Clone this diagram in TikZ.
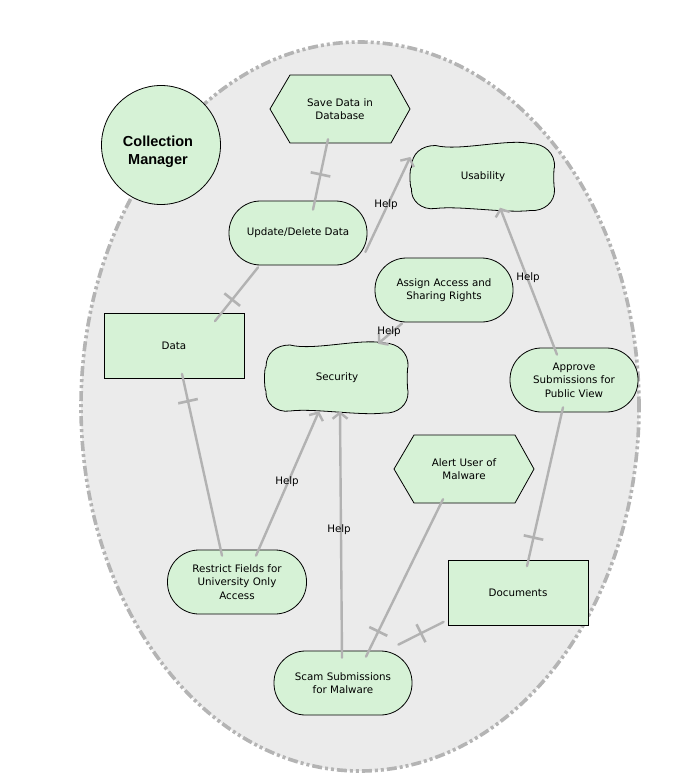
\documentclass[tikz,border=0pt]{standalone}
\usepackage{fontspec}
\setmainfont{DejaVu Sans}
\newfontfamily\actorfont{Liberation Sans}
\usetikzlibrary{arrows.meta,calc}
\definecolor{nodefill}{RGB}{214,242,214}
\definecolor{bgfill}{RGB}{235,235,235}
\definecolor{linkgray}{RGB}{178,178,178}
\definecolor{bordergray}{RGB}{180,180,180}

% softgoal: name, cx, cy, w, h, text
\newcommand\softgoalshape[6]{%
  \draw[nodeline] ({#2-#4/2+24},{#3-#5/2+2})
    .. controls ({#2-#4/6},{#3-#5/2+8}) and ({#2+#4/6},{#3-#5/2-5}) .. ({#2+#4/2-24},{#3-#5/2})
    .. controls ({#2+#4/2-10},{#3-#5/2}) and ({#2+#4/2+1},{#3-#5/2+10}) .. ({#2+#4/2},{#3-#5/2+24})
    .. controls ({#2+#4/2-1},{#3-#5/6}) and ({#2+#4/2-1},{#3+#5/6}) .. ({#2+#4/2},{#3+#5/2-22})
    .. controls ({#2+#4/2+1},{#3+#5/2-8}) and ({#2+#4/2-11},{#3+#5/2+1}) .. ({#2+#4/2-24},{#3+#5/2})
    .. controls ({#2+#4/6},{#3+#5/2+3}) and ({#2-#4/6},{#3+#5/2-5}) .. ({#2-#4/2+24},{#3+#5/2-2})
    .. controls ({#2-#4/2+10},{#3+#5/2}) and ({#2-#4/2-1},{#3+#5/2-10}) .. ({#2-#4/2},{#3+#5/2-22})
    .. controls ({#2-#4/2-2},{#3+#5/6}) and ({#2-#4/2-2},{#3-#5/6}) .. ({#2-#4/2},{#3-#5/2+24})
    .. controls ({#2-#4/2},{#3-#5/2+10}) and ({#2-#4/2+10},{#3-#5/2+2}) .. cycle;
  \node[plainbox, minimum width=#4pt, minimum height=#5pt] (#1) at (#2,#3) {#6};
}
% task hexagon: name, cx, cy, text
\newcommand\taskshape[4]{%
  \draw[nodeline] ({#2-70},#3) -- ({#2-50},{#3-34}) -- ({#2+51},{#3-34})
    -- ({#2+70},#3) -- ({#2+51},{#3+34}) -- ({#2-50},{#3+34}) -- cycle;
  \node[plainbox, minimum width=140pt, minimum height=68pt] (#1) at (#2,#3) {#4};
}

\begin{document}
\begin{tikzpicture}[x=1pt,y=-1pt,
  every node/.style={font=\fontsize{10.3}{13.6}\selectfont, align=center, inner sep=0pt},
  nodeline/.style={draw=black, fill=nodefill, line width=0.8pt},
  plainbox/.style={rectangle},
  goal/.style={nodeline, rectangle, rounded corners=31.5pt, minimum width=138pt, minimum height=64pt},
  resource/.style={nodeline, rectangle, minimum width=140pt, minimum height=65pt},
  actor/.style={nodeline, circle, minimum size=119pt},
  actortext/.style={font=\actorfont\bfseries\fontsize{14.5}{18}\selectfont},
  boundary/.style={draw=bordergray, fill=bgfill, line width=3.6pt,
    dash pattern=on 10pt off 3pt on 3pt off 3pt on 3pt off 3pt},
  link/.style={draw=linkgray, line width=2.4pt, line cap=round},
  helplink/.style={link, -{Straight Barb[length=6pt,width=15pt,line width=2.4pt]}},
  helplabel/.style={font=\fontsize{10.3}{12}\selectfont, fill=none},
  declink/.style={link},
  bar/.style={sloped, draw=linkgray, line width=2.6pt, rectangle,
    minimum height=20pt, minimum width=0pt, inner sep=0pt}
]
\useasboundingbox (0,0) rectangle (692,778);

% actor boundary
\path[boundary] (360,406.5) ellipse [x radius=279pt, y radius=364.5pt];

% actor
\node[actor] (cm) at (161,145) {};
\node[actortext] (cmtext) at (158,152) {Collection\\Manager};

% elements
\taskshape{save}{340}{109}{Save Data in\\Database}
\node[goal] (upd) at (298,233) {Update/Delete Data};
\softgoalshape{usab}{483}{177}{143}{67}{Usability}
\node[goal] (assign) at (444,290) {Assign Access and\\Sharing Rights};
\node[resource] (data) at (174,346) {Data};
\softgoalshape{sec}{337}{378}{142}{70}{Security}
\node[goal, minimum width=128pt] (approve) at (574,380) {Approve\\Submissions for\\Public View};
\taskshape{alert}{464}{469}{Alert User of\\Malware}
\node[goal, minimum width=139pt] (restrict) at (237,582) {Restrict Fields for\\University Only\\Access};
\node[resource] (docs) at (518,593) {Documents};
\node[goal] (scam) at (343,683) {Scam Submissions\\for Malware};

% decomposition links
\draw[declink] ([xshift=15pt,yshift=-9pt]upd.north) -- node[bar, pos=0.5]{} ([xshift=-12pt,yshift=4pt]save.south);
\draw[declink] ([xshift=41pt,yshift=-8pt]data.north) -- node[bar, pos=0.4]{} ([xshift=-40pt,yshift=-2pt]upd.south);
\draw[declink] ([xshift=-15pt,yshift=-6pt]restrict.north) -- node[bar, pos=0.85]{} ([xshift=8pt,yshift=5pt]data.south);
\draw[declink] ([xshift=23pt,yshift=-6pt]scam.north) -- node[bar, pos=0.16]{} ([xshift=-21pt,yshift=4pt]alert.south);
\draw[declink] ([xshift=-14pt,yshift=6pt]scam.north east) -- node[bar, pos=0.5]{} ([xshift=-4pt,yshift=4pt]docs.south west);
\draw[declink] ([xshift=9pt,yshift=-6pt]docs.north) -- node[bar, pos=0.18]{} ([xshift=-11pt,yshift=5pt]approve.south);

% contribution links
\draw[helplink] ([xshift=-2pt,yshift=-19pt]upd.east) -- ([xshift=-1pt,yshift=20pt]usab.west);
\node[helplabel] (h1) at (386,205) {Help};
\draw[helplink] ([xshift=-42pt,yshift=-1pt]assign.south) -- ([xshift=41pt,yshift=-1pt]sec.north);
\node[helplabel] (h2) at (389,332) {Help};
\draw[helplink] ([xshift=-17pt,yshift=-7pt]approve.north) -- ([xshift=17pt,yshift=3pt]usab.south);
\node[helplabel] (h3) at (528,278) {Help};
\draw[helplink] ([xshift=19pt,yshift=-6pt]restrict.north) -- ([xshift=-18pt,yshift=2pt]sec.south);
\node[helplabel] (h4) at (287,482) {Help};
\draw[helplink] ([xshift=-1pt,yshift=-7pt]scam.north) -- ([xshift=3pt,yshift=2pt]sec.south);
\node[helplabel] (h5) at (339,530) {Help};
\end{tikzpicture}
\end{document}
